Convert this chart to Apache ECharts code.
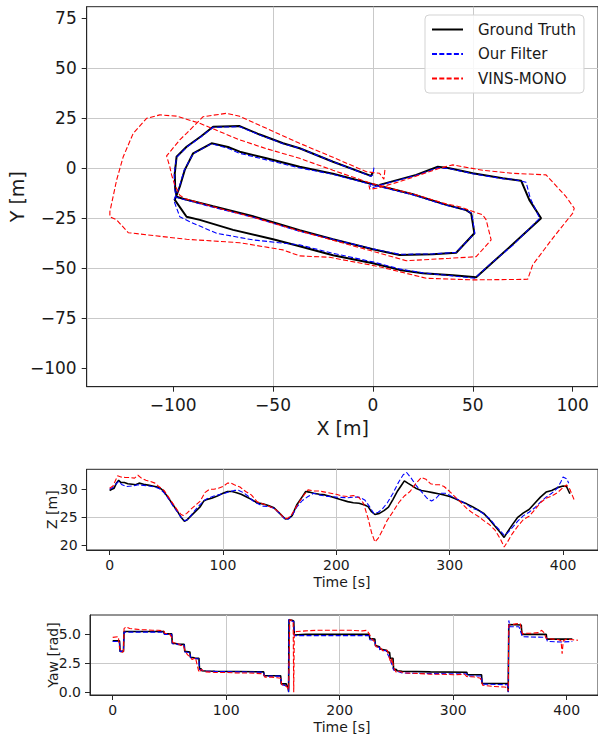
<!DOCTYPE html>
<html><head><meta charset="utf-8">
<script src="https://cdn.jsdelivr.net/npm/echarts@6/dist/echarts.min.js"></script>
<style>html,body{margin:0;padding:0;background:#fff}#c{width:598px;height:735px}</style>
</head><body><div id="c"></div>
<script>
const FONT = 'DejaVu Sans';
// ---- XY trajectory [x, y] in metres ----
const xyGroundTruth = [[0,-2],[-1,-3.8],[-20,3.3],[-36.7,10],[-45,12.5],[-57,17],[-66.7,21.1],[-80,20.8],[-86,16],[-93.3,10.8],[-98.3,5.8],[-99.2,-2.5],[-99,-10],[-98.3,-14.2],[-95,-15.2],[-80,-19],[-60,-24],[-36.7,-31],[-20,-35.5],[0,-40.5],[13.3,-43.3],[30,-43],[41.7,-42.2],[50.8,-32.5],[49.2,-22.5],[46.7,-20.9],[36.7,-18.3],[20,-13],[0,-8],[-20,-2.7],[-36.7,0.8],[-53.3,5],[-66.7,8.3],[-72,10.5],[-80.8,12.5],[-90,7.5],[-94.2,-0.8],[-96.7,-9.2],[-99.2,-15.8],[-93.3,-24.2],[-86.7,-25.8],[-70,-30.8],[-50,-35.5],[-36.7,-39],[-20,-43.5],[0,-47.5],[13.3,-50.8],[25,-52.5],[40,-53.5],[51.7,-54.5],[60,-47],[70,-38],[84.2,-25],[78.3,-15.8],[74.2,-6.2],[65,-5],[50,-2.5],[38.3,0],[32.5,0.8],[21.7,-3.3],[3.3,-8.3]];
const xyOurFilter = [[0.5,0.3],[0,-3.3],[-1,-4],[-20,3.3],[-36.7,10],[-45,12.3],[-57,16.8],[-66.7,20.8],[-80,20.5],[-86,15.8],[-93.3,10.5],[-98.3,5.5],[-99.5,-2.5],[-99.3,-10],[-98.5,-14.5],[-95,-15.5],[-80,-19.5],[-60,-24.5],[-36.7,-31.5],[-20,-35.5],[0,-40.3],[13.3,-43],[30,-42.8],[41.7,-42],[51,-32.5],[49.5,-22.5],[46.7,-21],[36.7,-18.5],[20,-13.3],[0,-8.3],[-20,-3],[-36.7,0.2],[-53.3,4.2],[-66.7,7.5],[-72,9.8],[-80.8,12.3],[-90,7.3],[-94.5,-1],[-97,-9.5],[-99.7,-16],[-96.7,-24.2],[-91.7,-26.7],[-78.3,-32.5],[-60,-35.8],[-36.7,-38.3],[-20,-42.5],[0,-46.8],[13.3,-50.3],[25,-52.3],[40,-53.8],[51,-55],[58,-48.5],[70,-38.5],[83.5,-25],[78.8,-15],[76.7,-7],[70,-5.5],[65,-5.2],[50,-2.7],[38.3,-0.2],[32.5,0.3],[21.7,-3.5],[3.3,-8.5],[-0.5,-9.8],[-1.5,-8.5]];
const xyVinsMono = [[6,-0.8],[5.5,-5.5],[3.3,-2.5],[-3.3,-1.7],[-20,5.5],[-36.7,12.5],[-53.3,20],[-66.7,26],[-73.3,27.5],[-85,25.8],[-93.3,17.5],[-96.7,14.2],[-103.3,6.2],[-101.7,0.8],[-100.8,-3.3],[-99.2,-8.3],[-96.7,-13.5],[-94,-15.2],[-80,-19.2],[-60,-24.5],[-36.7,-31.3],[-20,-36],[0,-41.5],[16.7,-46.2],[38.3,-45],[51.7,-44.2],[59.2,-35.8],[56.7,-25.8],[55,-23.3],[43.3,-19.2],[36.7,-17.8],[20,-12.8],[0,-7.8],[-20,-1],[-36.7,5],[-53.3,9.8],[-66.7,14.2],[-86.7,22.5],[-98.3,26.1],[-106.7,26.7],[-113.3,25],[-120,17.5],[-125,5.8],[-128.3,-5.8],[-131.7,-21.7],[-131.7,-24.2],[-128.3,-25.8],[-122.5,-32.2],[-93.3,-35.5],[-66.7,-37.2],[-45,-40.8],[-36.7,-43.8],[-21.7,-44.5],[3.3,-49.2],[13.3,-51.7],[26.7,-55],[50,-55.8],[77.5,-55.5],[80,-48.3],[90,-35],[100,-22.5],[100.8,-20],[96.7,-14.2],[86.7,-3.3],[70,-2.5],[55,-1],[40,1.7],[33.3,0],[13.3,-6.7],[1.7,-10],[-1.5,-10.5],[-2,-8.5]];
// ---- Z [m] vs time [s] ----
const zGroundTruth = [[0,29.8],[2,30],[4,30.2],[6,31.1],[8,31.6],[10,31.2],[13,31.2],[16,31],[20,30.9],[23,30.8],[26,31.1],[30,30.9],[35,30.7],[40,30.5],[44,30.3],[47,29.8],[50,29],[55,27.5],[60,26],[63,25],[66,24.3],[68,24.5],[72,25.3],[76,26.1],[80,26.9],[83,27.9],[86,28.2],[90,28.4],[95,28.8],[100,29.3],[104,29.6],[108,29.6],[112,29.4],[116,29.1],[120,28.7],[125,28.2],[130,27.6],[135,27.4],[140,27.1],[145,26.7],[150,25.7],[155,24.7],[158,24.8],[161,25.3],[165,27.2],[170,28.7],[173,29.6],[176,29.5],[180,29.3],[185,29.1],[190,29],[195,28.7],[200,28.4],[205,28.1],[210,27.8],[215,27.6],[220,27.5],[225,27.2],[228,26.9],[231,26],[234,25.5],[238,25.7],[242,26.2],[246,26.8],[250,28.2],[254,29.7],[257,30.6],[260,31.5],[263,31.1],[267,30.6],[270,30.2],[275,29.8],[280,29.6],[285,29.4],[290,29.2],[295,29],[300,28.7],[305,28.3],[310,27.8],[315,27.4],[320,26.9],[325,26.3],[330,25.7],[335,24.6],[340,23.4],[345,22.2],[348,21.4],[351,22.4],[355,23.6],[360,25],[365,25.8],[370,26.4],[375,27.5],[380,28.6],[385,29.5],[390,29.8],[395,30.3],[400,30.6],[403,30.5],[406,29.2]];
const zOurFilter = [[0,30],[3,30.3],[6,31],[8,31.4],[11,30.8],[15,30.5],[20,30.6],[25,30.8],[30,30.7],[35,30.6],[40,30.4],[44,30.1],[48,29.4],[52,28.3],[56,27],[60,25.9],[63,25],[66,24.4],[69,24.6],[72,25.4],[76,26.4],[80,27.3],[84,28.1],[88,28.5],[92,28.8],[96,29],[100,29.2],[105,29.5],[110,29.8],[114,29.8],[118,29.4],[122,28.8],[126,28],[130,27.5],[135,27],[140,26.9],[145,26.6],[150,25.7],[155,24.6],[158,24.7],[161,25.3],[165,26.8],[170,28],[175,28.7],[180,29.3],[185,29],[190,28.8],[200,28.6],[210,28.5],[215,28.6],[220,28.6],[225,28.1],[229,27],[233,25.7],[237,25.9],[241,26.6],[245,27.6],[250,29.3],[255,31.3],[259,32.6],[262,33],[266,32],[270,30.8],[275,29.6],[280,28.4],[284,27.9],[288,28.4],[292,29.3],[296,29.3],[300,28.9],[305,28.4],[310,27.9],[315,27.3],[320,26.6],[325,26.3],[330,25.6],[335,24.8],[340,23.6],[345,22.5],[348,21.8],[351,22.2],[355,23.1],[360,24.3],[365,25.3],[370,25.9],[375,26.7],[380,27.7],[385,28.6],[390,29.3],[395,30.2],[398,31.3],[400,32.2],[403,31.9],[405,31.1]];
const zVinsMono = [[0,30.2],[3,30.6],[5,31.5],[7,32.4],[10,32.2],[14,32.1],[18,32.1],[22,32],[25,32.5],[28,32],[32,31.6],[36,31.4],[40,31.1],[44,30.4],[48,29.8],[52,28.6],[56,27.4],[60,26.2],[63,25.5],[65,25.3],[68,25.7],[72,26.5],[76,27.2],[80,27.9],[84,29.4],[88,30],[92,30],[96,30.2],[100,30.5],[104,31.1],[107,31.1],[110,30.8],[115,30.4],[120,29.6],[125,29],[130,27.8],[135,27.4],[140,27],[145,26.6],[150,25.8],[154,24.8],[157,24.8],[160,25.3],[165,27],[170,28.6],[175,29.9],[180,29.7],[185,29.7],[190,29.5],[195,29.3],[200,29.1],[205,28.8],[210,28.7],[215,28.9],[220,28.5],[224,27.5],[228,24.8],[231,22.3],[234,20.6],[237,21.3],[241,22.8],[245,24.5],[250,26],[255,27.6],[260,28.8],[265,29.6],[270,31],[275,32.1],[279,31.8],[283,31],[287,30.8],[291,30.8],[295,30.5],[300,29.6],[305,28.6],[310,27.6],[315,26.6],[320,25.8],[325,25.2],[330,24.4],[335,23.7],[340,22.7],[345,21],[348,19.7],[351,20.6],[355,22],[360,23.4],[365,24.6],[370,25.2],[375,26.3],[380,27.6],[385,28.4],[390,28.8],[395,29.4],[400,30.3],[403,30.8],[406,30],[410,28]];
// ---- Yaw [rad] vs time [s] ----
const yawGroundTruth = [[0,4.4],[6,4.4],[6.5,3.5],[9.5,3.5],[10,5.2],[45,5.2],[45.5,5.0],[52,5.0],[52.5,4.2],[57,4.15],[57.5,4.1],[63,4.1],[63.5,3.5],[68,3.45],[68.5,3.0],[72,2.95],[72.5,2.9],[76,2.9],[76.5,2.0],[78,2.0],[78.5,1.85],[82,1.82],[90,1.8],[110,1.78],[133,1.75],[133.5,1.42],[148,1.42],[148.5,0.72],[153,0.72],[153.5,0.55],[154.5,0.5],[155,0.05],[155.3,6.2],[158,6.15],[159.5,6.1],[160,4.9],[170,4.95],[226,4.95],[226.5,4.6],[231,4.55],[231.5,4.0],[235,3.9],[235.5,3.7],[241,3.6],[241.5,3.5],[244,3.4],[244.5,2.9],[247,2.9],[247.5,2.0],[250,1.95],[250.5,1.85],[255,1.8],[280,1.75],[312,1.72],[312.5,1.5],[325,1.5],[325.5,0.75],[348,0.75],[348.5,0.05],[349,5.8],[360,5.75],[360.5,4.95],[382,4.95],[382.5,4.55],[405,4.55]];
const yawOurFilter = [[0,4.35],[6,4.35],[6.5,3.5],[9.5,3.5],[10,5.15],[45,5.15],[45.5,4.95],[52,4.95],[52.5,4.15],[63,4.05],[63.5,3.45],[68,3.4],[68.5,2.95],[76,2.85],[76.5,1.95],[82,1.8],[110,1.75],[133,1.72],[133.5,1.38],[148,1.38],[148.5,0.68],[154.5,0.5],[155,0.0],[155.3,6.25],[158,6.1],[159.5,6.05],[160,4.85],[226,4.85],[226.5,4.5],[231,4.45],[231.5,3.9],[235,3.85],[235.5,3.6],[241,3.55],[241.5,3.4],[244.5,2.85],[247.5,1.9],[255,1.65],[280,1.6],[312,1.58],[312.5,1.4],[325,1.4],[325.5,0.7],[348,0.65],[348.5,0.0],[349,6.15],[350,5.6],[358,5.6],[361,4.75],[382,4.7],[383,4.35],[395,4.3],[405,4.35]];
const yawVinsMono = [[0,4.7],[5,4.75],[6,3.8],[8,3.4],[9.5,3.5],[10,5.45],[12,5.6],[15,5.45],[20,5.4],[25,5.35],[30,5.35],[35,5.3],[40,5.3],[45,5.25],[46,5.05],[50,5.0],[52,4.7],[53,4.25],[57,4.2],[60,4.0],[62,4.05],[64,3.5],[66,3.2],[68,3.05],[70,2.8],[73,2.95],[74,2.5],[76,1.7],[78,1.95],[82,1.75],[90,1.7],[100,1.7],[110,1.65],[120,1.65],[130,1.6],[133,1.55],[134,1.3],[140,1.3],[145,1.25],[148,1.2],[149,0.65],[152,0.6],[154,0.4],[155,0.2],[156,6.2],[158,6.15],[159,6.0],[159.5,0],[160,5.1],[162,5.2],[170,5.25],[180,5.3],[190,5.3],[200,5.3],[210,5.3],[220,5.25],[224,5.3],[226,5.0],[228,4.6],[231,4.3],[232,3.9],[236,3.8],[238,3.55],[242,3.6],[243,3.2],[245,2.5],[246,2.9],[248,2.0],[250,1.7],[252,1.8],[258,1.65],[270,1.6],[280,1.55],[290,1.55],[300,1.5],[310,1.55],[312,1.35],[320,1.3],[324,1.2],[326,0.6],[335,0.5],[345,0.45],[348,0.4],[348.5,0.1],[349,5.75],[355,5.85],[359,5.9],[361,5.0],[365,5.05],[370,5.05],[375,5.1],[378,5.3],[380,5.1],[382,4.6],[388,4.55],[393,4.5],[395,4.4],[396,3.3],[397,4.4],[400,4.55],[405,4.5],[410,4.45]];
// ---- tick values ----
const xyXTicks = [-100,-50,0,50,100];
const xyYTicks = [-100,-75,-50,-25,0,25,50,75];
const timeTicks = [0,100,200,300,400];
const zTicks = [20,25,30];
const yawTicks = [0,2.5,5];
const seriesNames = ['Ground Truth','Our Filter','VINS-MONO'];

const minus = s => String(s).replace('-', '\u2212');
const GRID = '#c9c9c9', SPINE = '#262626';
function valAxis(o){
  return Object.assign({
    type:'value', scale:false,
    axisLine:{show:true, onZero:false, lineStyle:{color:SPINE,width:1}},
    axisTick:{show:true, length:5, lineStyle:{color:SPINE,width:1}, customValues:o.ticks},
    axisLabel:{show:true, customValues:o.ticks, color:'#1a1a1a', fontFamily:FONT, fontSize:o.fs, margin:o.margin,
      formatter: v => (o.ticks.some(t=>Math.abs(t-v)<1e-6) ? minus(o.fmt ? o.fmt(v) : v) : '')},
    splitLine:{show:true, showMinLine:false, showMaxLine:false, lineStyle:{color:GRID,width:1}},
    minInterval:o.step, maxInterval:o.step
  }, o.extra);
}
const dashB = {color:'#0000ff', width:1.1, type:[5,2.3]};
const dashR = {color:'#ff0000', width:1.1, type:[5,2.3]};
function mk(name, data, idx, style){
  return {name, type:'line', data, xAxisIndex:idx, yAxisIndex:idx, symbol:'none', showSymbol:false,
    lineStyle:style, itemStyle:{color:style.color}, animation:false, clip:true, z: name==='VINS-MONO'?4:(name==='Our Filter'?3:2)};
}
const solidK = w => ({color:'#000000', width:w, type:'solid'});

const chart = echarts.init(document.getElementById('c'), null, {renderer:'svg', width:598, height:735});
chart.setOption({
  backgroundColor:'#ffffff',
  animation:false,
  grid:[
    {left:86.7, top:6.7, width:512, height:380, show:true, borderColor:SPINE, borderWidth:1, backgroundColor:'transparent'},
    {left:86.6, top:469.3, width:516, height:80.7, show:true, borderColor:SPINE, borderWidth:1},
    {left:90, top:615, width:512, height:80, show:true, borderColor:SPINE, borderWidth:1}
  ],
  xAxis:[
    valAxis({ticks:xyXTicks, fs:17, margin:10, step:50, extra:{gridIndex:0, min:-143.3, max:112.7, position:'bottom'}}),
    valAxis({ticks:timeTicks, fs:14, margin:8, step:100, extra:{gridIndex:1, min:-20.3, max:430.8, position:'bottom'}}),
    valAxis({ticks:timeTicks, fs:14, margin:8, step:100, extra:{gridIndex:2, min:-20, max:427.6, position:'bottom'}})
  ],
  yAxis:[
    valAxis({ticks:xyYTicks, fs:17, margin:10, step:25, extra:{gridIndex:0, min:-109.2, max:80.8, position:'left'}}),
    valAxis({ticks:zTicks, fs:14, margin:9, step:5, extra:{gridIndex:1, min:19.16, max:33.57, position:'left'}}),
    valAxis({ticks:yawTicks, fs:14, margin:9, step:2.5, fmt:v=>v.toFixed(1), extra:{gridIndex:2, min:-0.23, max:6.61, position:'left'}})
  ],
  legend:{
    data:seriesNames, orient:'vertical', left:425, top:15,
    itemWidth:31, itemHeight:14, itemGap:9.5, padding:[7,8,7,6],
    itemStyle:{color:'rgba(0,0,0,0)', borderColor:'rgba(0,0,0,0)', borderWidth:0, opacity:0},
    backgroundColor:'rgba(255,255,255,0.85)', borderColor:'#d3d3d3', borderWidth:1, borderRadius:4,
    textStyle:{fontFamily:FONT, fontSize:15, color:'#1a1a1a', padding:[0,0,0,10]},
    selectedMode:false
  },
  graphic:[
    {type:'text', x:342.7, y:428, style:{text:'X [m]', font:'19px "DejaVu Sans"', fill:'#1a1a1a', textAlign:'center', textVerticalAlign:'middle'}},
    {type:'text', x:17, y:196.7, rotation:Math.PI/2, style:{text:'Y [m]', font:'19px "DejaVu Sans"', fill:'#1a1a1a', textAlign:'center', textVerticalAlign:'middle'}},
    {type:'text', x:342, y:581.5, style:{text:'Time [s]', font:'14px "DejaVu Sans"', fill:'#1a1a1a', textAlign:'center', textVerticalAlign:'middle'}},
    {type:'text', x:51.5, y:509.7, rotation:Math.PI/2, style:{text:'Z [m]', font:'14px "DejaVu Sans"', fill:'#1a1a1a', textAlign:'center', textVerticalAlign:'middle'}},
    {type:'text', x:342, y:726.5, style:{text:'Time [s]', font:'14px "DejaVu Sans"', fill:'#1a1a1a', textAlign:'center', textVerticalAlign:'middle'}},
    {type:'text', x:53.4, y:655, rotation:Math.PI/2, style:{text:'Yaw [rad]', font:'14px "DejaVu Sans"', fill:'#1a1a1a', textAlign:'center', textVerticalAlign:'middle'}}
  ],
  series:[
    mk('Ground Truth', xyGroundTruth, 0, solidK(2)),
    mk('Our Filter', xyOurFilter, 0, dashB),
    mk('VINS-MONO', xyVinsMono, 0, dashR),
    mk('Ground Truth', zGroundTruth, 1, solidK(1.6)),
    mk('Our Filter', zOurFilter, 1, dashB),
    mk('VINS-MONO', zVinsMono, 1, dashR),
    mk('Ground Truth', yawGroundTruth, 2, solidK(1.6)),
    mk('Our Filter', yawOurFilter, 2, dashB),
    mk('VINS-MONO', yawVinsMono, 2, dashR)
  ]
});
</script></body></html>
